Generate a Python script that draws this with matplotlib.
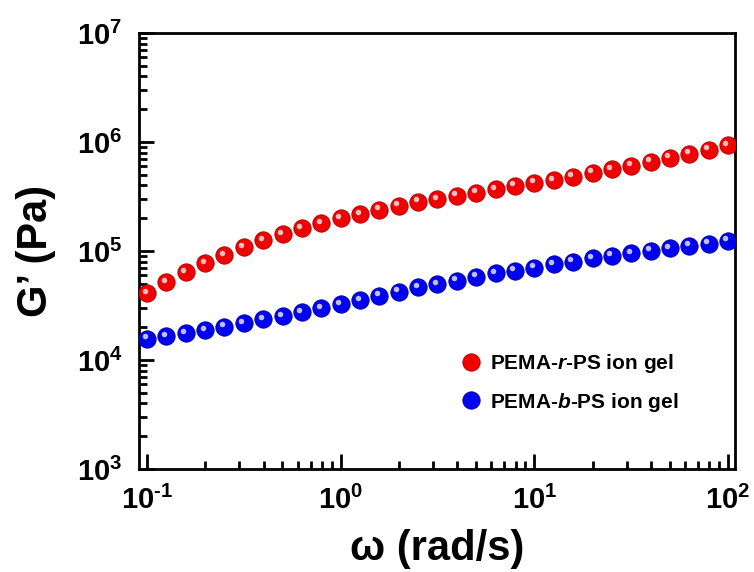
import matplotlib
matplotlib.use("Agg")
import matplotlib.pyplot as plt
from matplotlib import transforms
from matplotlib.ticker import LogLocator, FixedLocator, FixedFormatter, NullFormatter

plt.rcParams['font.family'] = ['Liberation Sans', 'DejaVu Sans']
plt.rcParams['font.weight'] = 'bold'
plt.rcParams['mathtext.fontset'] = 'custom'
plt.rcParams['mathtext.rm'] = 'Liberation Sans:bold'
plt.rcParams['mathtext.bf'] = 'Liberation Sans:bold'
plt.rcParams['mathtext.it'] = 'Liberation Sans:bold:italic'
plt.rcParams['mathtext.default'] = 'rm'

# Angular frequency (rad/s)
omega = [0.1, 0.126, 0.158, 0.2, 0.251, 0.316, 0.398, 0.501, 0.631, 0.794,
         1.0, 1.26, 1.58, 2.0, 2.51, 3.16, 3.98, 5.01, 6.31, 7.94,
         10.0, 12.6, 15.8, 20.0, 25.1, 31.6, 39.8, 50.1, 63.1, 79.4, 100.0]

# G' (Pa) PEMA-r-PS ion gel
g_random = [40900, 51600, 63800, 77100, 91900, 108000, 126000, 142000, 161000, 180000,
            200000, 217000, 238000, 259000, 282000, 299000, 320000, 343000, 368000, 395000,
            423000, 448000, 481000, 523000, 562000, 606000, 659000, 718000, 781000, 845000, 938000]

# G' (Pa) PEMA-b-PS ion gel
g_block = [15600, 16600, 17600, 18800, 20200, 21700, 23600, 25300, 27400, 29800,
           32400, 35500, 38900, 42300, 46400, 49800, 53100, 58100, 62400, 65900,
           70300, 75500, 79800, 85700, 90600, 95300, 100700, 105900, 111900, 116700, 124300]

labels = ['PEMA-$\\mathit{r}$-PS ion gel', 'PEMA-$\\mathit{b}$-PS ion gel']
x_ticks = [0.1, 1, 10, 100]
x_ticklabels = ['$10^{\\text{-}1}$', '$10^{0}$', '$10^{1}$', '$10^{2}$']
y_ticks = [1e3, 1e4, 1e5, 1e6, 1e7]
y_ticklabels = ['$10^{3}$', '$10^{4}$', '$10^{5}$', '$10^{6}$', '$10^{7}$']

fig = plt.figure(figsize=(7.54, 5.72), dpi=100)
ax = fig.add_axes([0.1844, 0.18, 0.7904, 0.7623])

hl = transforms.offset_copy(ax.transData, fig=fig, x=-1.8, y=1.8, units='points')
series = [(g_random, '#f00000', '#b00000', labels[0]), (g_block, '#0000f0', '#0000a0', labels[1])]
for g, col, edge, lab in series:
    ax.plot(omega, g, linestyle='none', marker='o', markersize=12.5,
            markerfacecolor=col, markeredgecolor=edge, markeredgewidth=0.6, label=lab, zorder=3)
    ax.plot(omega, g, linestyle='none', marker='o', markersize=4,
            markerfacecolor='white', markeredgecolor='none', alpha=0.75,
            transform=hl, zorder=4)

ax.set_xscale('log')
ax.set_yscale('log')
ax.set_xlim(0.0909, 108.7)
ax.set_ylim(1e3, 1e7)

ax.xaxis.set_major_locator(FixedLocator(x_ticks))
ax.xaxis.set_major_formatter(FixedFormatter(x_ticklabels))
ax.yaxis.set_major_locator(FixedLocator(y_ticks))
ax.yaxis.set_major_formatter(FixedFormatter(y_ticklabels))
ax.xaxis.set_minor_locator(LogLocator(base=10, subs=range(2, 10), numticks=20))
ax.yaxis.set_minor_locator(LogLocator(base=10, subs=range(2, 10), numticks=20))
ax.xaxis.set_minor_formatter(NullFormatter())
ax.yaxis.set_minor_formatter(NullFormatter())

ax.tick_params(which='major', direction='in', length=11, width=2, labelsize=21, pad=12,
               top=False, right=False)
ax.tick_params(which='minor', direction='in', length=6, width=2, top=False, right=False)
for s in ax.spines.values():
    s.set_linewidth(2)

ax.set_xlabel('ω (rad/s)', fontsize=30, fontweight='bold', labelpad=10)
ax.set_ylabel('G’ (Pa)', fontsize=30, fontweight='bold', labelpad=15)

ax.legend(loc='center left', bbox_to_anchor=(0.505, 0.198), frameon=False, fontsize=15,
          handletextpad=0.3, labelspacing=0.75, handlelength=1.2, numpoints=1,
          borderpad=0.4)

fig.savefig('out.png', dpi=100)
